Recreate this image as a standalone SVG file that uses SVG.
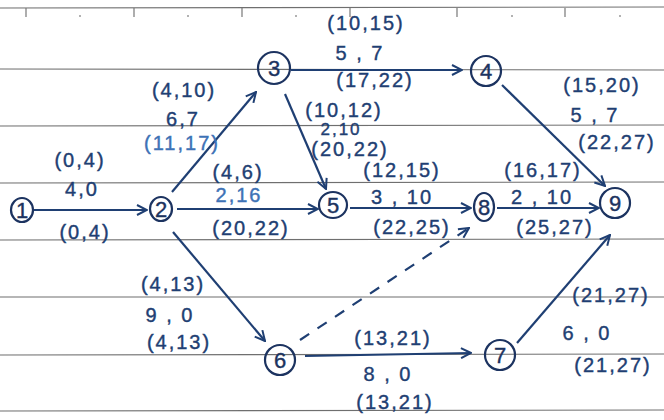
<svg xmlns="http://www.w3.org/2000/svg" width="664" height="420" viewBox="0 0 664 420">
<defs>
<style>
.rule{stroke:#6f6f6f;stroke-width:1.2;fill:none}
.tick{stroke:#777;stroke-width:1.2}
.dot{fill:#999}
.node{fill:none;stroke:#1c3360;stroke-width:2.2}
.num{font-family:"Liberation Sans",Arial,sans-serif;font-size:22px;fill:#1c3360;text-anchor:middle;stroke:#1c3360;stroke-width:0.4}
.edge{stroke:#1f3f73;stroke-width:2.2;fill:none;marker-end:url(#ah)}
.dash{stroke-dasharray:11 10}
.lbl{font-family:"Liberation Sans",Arial,sans-serif;font-size:20px;fill:#1f3f73;text-anchor:middle;letter-spacing:2px;stroke:#1f3f73;stroke-width:0.4}
.lb2{fill:#3d72b6;stroke:#3d72b6}
.sm{font-size:17px}
</style>
<marker id="ah" viewBox="0 0 12 12" refX="11" refY="6" markerWidth="12" markerHeight="12" orient="auto" markerUnits="userSpaceOnUse">
<path d="M1,1 L11,6 L1,11" fill="none" stroke="#1f3f73" stroke-width="2"/>
</marker>
</defs>
<rect width="664" height="420" fill="#ffffff"/>
<g id="paper">
<line class="rule" x1="0" y1="8" x2="664" y2="7"/>
<line class="rule" x1="0" y1="69" x2="664" y2="70"/>
<line class="rule" x1="0" y1="126" x2="664" y2="125"/>
<line class="rule" x1="0" y1="183" x2="664" y2="182"/>
<line class="rule" x1="0" y1="240" x2="664" y2="239"/>
<line class="rule" x1="0" y1="297" x2="664" y2="297"/>
<line class="rule" x1="0" y1="355" x2="664" y2="354"/>
<line class="rule" x1="0" y1="411" x2="664" y2="410"/>
<line class="tick" x1="26" y1="8" x2="26" y2="17"/>
<line class="tick" x1="134" y1="8" x2="134" y2="17"/>
<line class="tick" x1="242" y1="8" x2="242" y2="17"/>
<line class="tick" x1="350" y1="8" x2="350" y2="17"/>
<line class="tick" x1="457" y1="8" x2="457" y2="17"/>
<line class="tick" x1="565" y1="8" x2="565" y2="17"/>
<circle class="dot" cx="80" cy="16" r="1"/>
<circle class="dot" cx="188" cy="16" r="1"/>
<circle class="dot" cx="296" cy="16" r="1"/>
<circle class="dot" cx="512" cy="16" r="1"/>
<circle class="dot" cx="620" cy="16" r="1"/>
</g>
<g id="connectors">
<path class="edge" d="M33,210 L147,210"/>
<path class="edge" d="M177,209 L318,209"/>
<path class="edge" d="M350,208 L471,208"/>
<path class="edge" d="M497,208 L599,208"/>
<path class="edge" d="M172,192 L256,92"/>
<path class="edge" d="M291,70 L462,70"/>
<path class="edge" d="M285,94 L326,189"/>
<path class="edge" d="M502,85 L605,186"/>
<path class="edge" d="M173,232 L265,341"/>
<path class="edge" d="M305,356 L471,353"/>
<path class="edge dash" d="M300,340 L469,228"/>
<path class="edge" d="M517,343 L610,235"/>
</g>
<g id="labels">
<text class="lbl" x="80" y="167">(0,4)</text>
<text class="lbl" x="82" y="196">4,0</text>
<text class="lbl" x="85" y="239">(0,4)</text>
<text class="lbl" x="184" y="97">(4,10)</text>
<text class="lbl" x="183" y="126">6,7</text>
<text class="lbl lb2" x="182" y="150">(11,17)</text>
<text class="lbl" x="238" y="179">(4,6)</text>
<text class="lbl lb2" x="239" y="202">2,16</text>
<text class="lbl" x="251" y="235">(20,22)</text>
<text class="lbl" x="366" y="30">(10,15)</text>
<text class="lbl" x="360" y="60">5 , 7</text>
<text class="lbl" x="375" y="87">(17,22)</text>
<text class="lbl" x="344" y="117">(10,12)</text>
<text class="lbl sm" x="341" y="135">2,10</text>
<text class="lbl" x="350" y="156">(20,22)</text>
<text class="lbl" x="402" y="177">(12,15)</text>
<text class="lbl" x="402" y="204">3 , 10</text>
<text class="lbl" x="412" y="234">(22,25)</text>
<text class="lbl" x="543" y="177">(16,17)</text>
<text class="lbl" x="542" y="204">2 , 10</text>
<text class="lbl" x="555" y="234">(25,27)</text>
<text class="lbl" x="602" y="92">(15,20)</text>
<text class="lbl" x="595" y="122">5 , 7</text>
<text class="lbl" x="617" y="149">(22,27)</text>
<text class="lbl" x="173" y="291">(4,13)</text>
<text class="lbl" x="170" y="322">9 , 0</text>
<text class="lbl" x="179" y="349">(4,13)</text>
<text class="lbl" x="393" y="345">(13,21)</text>
<text class="lbl" x="388" y="381">8 , 0</text>
<text class="lbl" x="395" y="409">(13,21)</text>
<text class="lbl" x="611" y="302">(21,27)</text>
<text class="lbl" x="587" y="340">6 , 0</text>
<text class="lbl" x="613" y="372">(21,27)</text>
</g>
<g id="node1"><ellipse class="node" cx="22" cy="210" rx="11" ry="12"/><text class="num" x="22" y="218">1</text></g>
<g id="node2"><ellipse class="node" cx="161" cy="209" rx="11" ry="12"/><text class="num" x="161" y="217">2</text></g>
<g id="node3"><ellipse class="node" cx="274" cy="68" rx="16" ry="16"/><text class="num" x="274" y="76">3</text></g>
<g id="node4"><ellipse class="node" cx="486" cy="71" rx="15" ry="15"/><text class="num" x="486" y="79">4</text></g>
<g id="node5"><ellipse class="node" cx="333" cy="205" rx="14" ry="13"/><text class="num" x="333" y="213">5</text></g>
<g id="node6"><ellipse class="node" cx="280" cy="360" rx="15" ry="15"/><text class="num" x="280" y="368">6</text></g>
<g id="node7"><ellipse class="node" cx="500" cy="355" rx="15" ry="15"/><text class="num" x="500" y="363">7</text></g>
<g id="node8"><ellipse class="node" cx="484" cy="207" rx="10" ry="14"/><text class="num" x="484" y="215">8</text></g>
<g id="node9"><ellipse class="node" cx="615" cy="203" rx="15" ry="15"/><text class="num" x="615" y="211">9</text></g>
</svg>
